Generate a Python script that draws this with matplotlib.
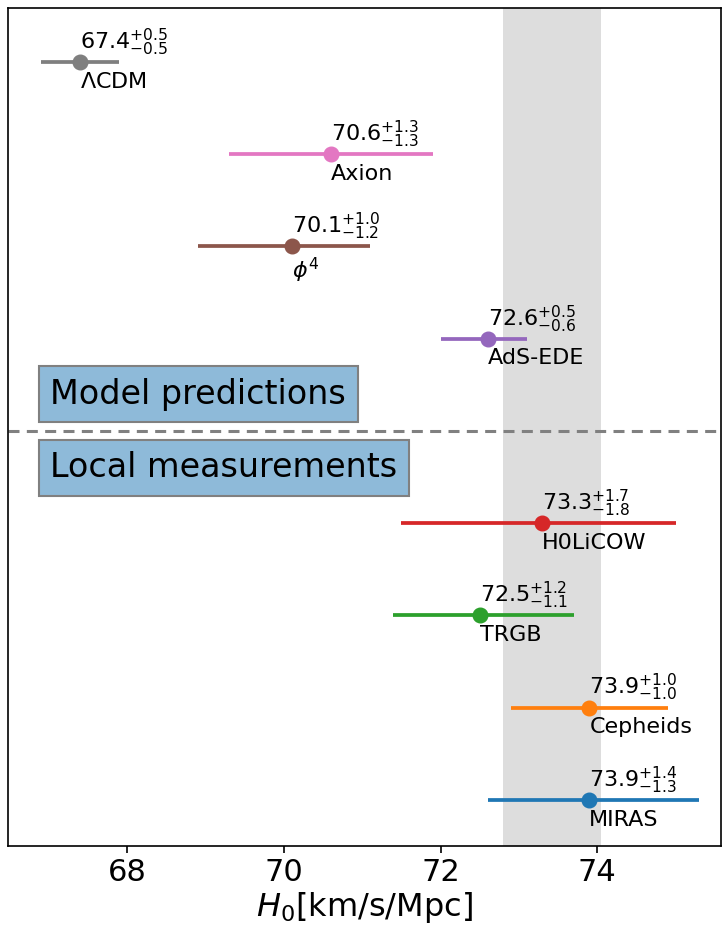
import numpy as np
import matplotlib
matplotlib.use("Agg")
import matplotlib.pyplot as plt

# measurements, bottom to top
names = ["MIRAS", "Cepheids", "TRGB", "H0LiCOW", None,
         "AdS-EDE", r"$\phi^4$", "Axion", r"$\Lambda$CDM"]
h0 = [73.9, 73.9, 72.5, 73.3, None, 72.6, 70.1, 70.6, 67.4]
err_up = [1.4, 1.0, 1.2, 1.7, None, 0.5, 1.0, 1.3, 0.5]
err_lo = [1.3, 1.0, 1.1, 1.8, None, 0.6, 1.2, 1.3, 0.5]
colors = ["tab:blue", "tab:orange", "tab:green", "tab:red", None,
          "tab:purple", "tab:brown", "tab:pink", "tab:gray"]

band = (72.8, 74.05)

fig = plt.figure(figsize=(7.22, 9.36), dpi=100)
ax = fig.add_axes([8/722, 90/936, 713/722, 838/936])

ax.axvspan(band[0], band[1], color="#dddddd", lw=0, zorder=0)

for i in range(len(names)):
    if names[i] is None:
        continue
    ax.errorbar(h0[i], i, xerr=[[err_lo[i]], [err_up[i]]], fmt="o",
                color=colors[i], ms=10.5, lw=2.7, capsize=0, zorder=3)
    val = r"$%.1f^{+%.1f}_{-%.1f}$" % (h0[i], err_up[i], err_lo[i])
    ax.annotate(val, (h0[i], i), xytext=(0, 3), textcoords="offset points",
                ha="left", va="bottom", fontsize=16)
    ax.annotate(names[i], (h0[i], i), xytext=(0, -7), textcoords="offset points",
                ha="left", va="top", fontsize=16)

ax.axhline(4, color="gray", ls="--", lw=2.2, dashes=(3.6, 2.4))

box = dict(facecolor=(31/255, 119/255, 180/255, 0.5), edgecolor="gray",
           lw=1.5, pad=8.5)
ax.text(67.02, 4.4, "Model predictions", fontsize=24, va="center", ha="left",
        bbox=box)
ax.text(67.02, 3.6, "Local measurements", fontsize=24, va="center", ha="left",
        bbox=box)

ax.set_xlim(66.48, 75.58)
ax.set_ylim(-0.5, 8.585)
ax.set_yticks([])
ax.set_xticks([68, 70, 72, 74])
ax.tick_params(axis="x", labelsize=22, width=1.2, length=5)
for s in ax.spines.values():
    s.set_linewidth(1.2)
ax.set_xlabel(r"$H_0$[km/s/Mpc]", fontsize=23, labelpad=2)

fig.savefig("out.png", dpi=100)
